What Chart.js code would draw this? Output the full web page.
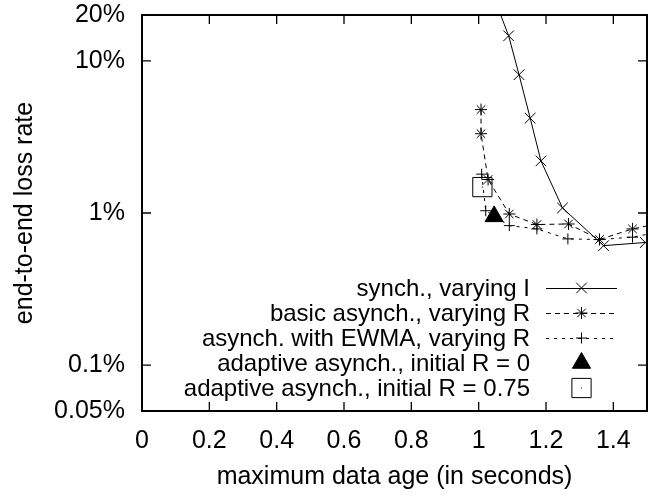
<!DOCTYPE html>
<html>
<head>
<meta charset="utf-8">
<script src="https://cdn.jsdelivr.net/npm/chart.js@4"></script>
<style>
  html, body { margin: 0; padding: 0; background: #fff; }
  canvas { display: block; }
</style>
</head>
<body>
<canvas id="c" width="649" height="501"></canvas>
<script>
// Maximum data age (seconds) and end-to-end loss rate (%) for each scheme
const synchAge  = [1.035, 1.089, 1.120, 1.153, 1.185, 1.249, 1.371, 1.495];
const synchLoss = [30, 14.6, 8.1, 4.2, 2.2, 1.08, 0.61, 0.64];

const basicAge  = [1.007, 1.007, 1.028, 1.091, 1.173, 1.267, 1.359, 1.457, 1.55];
const basicLoss = [4.78, 3.32, 1.66, 0.985, 0.84, 0.847, 0.67, 0.786, 0.866];

const ewmaAge  = [1.009, 1.021, 1.091, 1.173, 1.265, 1.359, 1.457, 1.55];
const ewmaLoss = [1.80, 1.035, 0.826, 0.786, 0.676, 0.669, 0.694, 0.76];

const adaptiveZeroAge  = [1.046];
const adaptiveZeroLoss = [0.95];

const adaptiveHighAge  = [1.011];
const adaptiveHighLoss = [1.48];

const seriesNames = [
  'synch., varying I',
  'basic asynch., varying R',
  'asynch. with EWMA, varying R',
  'adaptive asynch., initial R = 0',
  'adaptive asynch., initial R = 0.75'
];

const xTicks      = [0, 0.2, 0.4, 0.6, 0.8, 1, 1.2, 1.4];
const xTickLabels = ['0', '0.2', '0.4', '0.6', '0.8', '1', '1.2', '1.4'];
const yTicks      = [0.05, 0.1, 1, 10, 20];
const yTickLabels = ['0.05%', '0.1%', '1%', '10%', '20%'];

const FONT = '"Liberation Sans", Arial, Helvetica, sans-serif';
const INK = '#000';

// Plot box inside the 649x501 canvas
const BOX = { left: 142, top: 15, right: 647, bottom: 411 };

const pts = (xs, ys) => xs.map((x, i) => ({ x, y: ys[i] }));

// Box frame with inward ticks on all four sides
const framePlugin = {
  id: 'frame',
  afterDatasetsDraw(chart) {
    const { ctx, chartArea: a, scales: { x, y } } = chart;
    const T = 9;
    ctx.save();
    ctx.strokeStyle = INK;
    ctx.lineWidth = 1.3;
    ctx.beginPath();
    xTicks.forEach(v => {
      const px = x.getPixelForValue(v);
      ctx.moveTo(px, a.bottom); ctx.lineTo(px, a.bottom - T);
      ctx.moveTo(px, a.top);    ctx.lineTo(px, a.top + T);
    });
    yTicks.forEach(v => {
      const py = y.getPixelForValue(v);
      ctx.moveTo(a.left, py);  ctx.lineTo(a.left + T, py);
      ctx.moveTo(a.right, py); ctx.lineTo(a.right - T, py);
    });
    ctx.stroke();
    ctx.lineWidth = 2;
    ctx.strokeRect(a.left, a.top, a.right - a.left, a.bottom - a.top);
    ctx.restore();
  }
};

// Key inside the plot: right-aligned names with line/marker samples
const keyPlugin = {
  id: 'key',
  afterDraw(chart) {
    const { ctx } = chart;
    const textRight = 530, lineL = 546, lineR = 617, markX = 581.5;
    ctx.save();
    chart.data.datasets.forEach((ds, i) => {
      const rowY = 288 + i * 25;
      ctx.fillStyle = INK;
      ctx.font = '24px ' + FONT;
      ctx.textAlign = 'right';
      ctx.textBaseline = 'middle';
      ctx.fillText(seriesNames[i], textRight, rowY + 1);
      if (ds.showLine) {
        ctx.strokeStyle = ds.borderColor;
        ctx.lineWidth = ds.borderWidth;
        ctx.setLineDash(ds.borderDash || []);
        ctx.beginPath();
        ctx.moveTo(lineL, rowY + 0.5);
        ctx.lineTo(lineR, rowY + 0.5);
        ctx.stroke();
        ctx.setLineDash([]);
      }
      ctx.strokeStyle = ds.pointBorderColor;
      ctx.fillStyle = ds.pointBackgroundColor;
      ctx.lineWidth = ds.pointBorderWidth;
      Chart.helpers.drawPoint(ctx, {
        pointStyle: ds.pointStyle,
        radius: ds.pointRadius,
        rotation: 0,
        borderWidth: ds.pointBorderWidth
      }, markX, rowY);
      if (ds.centerDot) {
        ctx.fillStyle = INK;
        ctx.fillRect(markX - 0.5, rowY - 0.5, 1, 1);
      }
    });
    ctx.restore();
  }
};

// Small centre dot inside the open-square markers
const dotPlugin = {
  id: 'dot',
  afterDatasetsDraw(chart) {
    const { ctx } = chart;
    chart.data.datasets.forEach((ds, i) => {
      if (!ds.centerDot) return;
      chart.getDatasetMeta(i).data.forEach(el => {
        ctx.fillStyle = INK;
        ctx.fillRect(el.x - 0.5, el.y - 0.5, 1, 1);
      });
    });
  }
};

// Scales keep no extra room for overhanging labels
const noOverhang = s => {
  s.paddingLeft = 0; s.paddingRight = 0;
  s.paddingTop = 0; s.paddingBottom = 0;
};

new Chart(document.getElementById('c'), {
  type: 'scatter',
  data: {
    datasets: [
      {
        label: seriesNames[0],
        data: pts(synchAge, synchLoss),
        showLine: true,
        borderColor: INK, borderWidth: 1,
        pointStyle: 'crossRot', pointRadius: 7.5,
        pointBorderColor: INK, pointBackgroundColor: INK, pointBorderWidth: 1
      },
      {
        label: seriesNames[1],
        data: pts(basicAge, basicLoss),
        showLine: true,
        borderColor: INK, borderWidth: 1, borderDash: [5, 4],
        pointStyle: 'star', pointRadius: 6,
        pointBorderColor: INK, pointBackgroundColor: INK, pointBorderWidth: 1
      },
      {
        label: seriesNames[2],
        data: pts(ewmaAge, ewmaLoss),
        showLine: true,
        borderColor: INK, borderWidth: 1, borderDash: [3, 5],
        pointStyle: 'cross', pointRadius: 5.5,
        pointBorderColor: INK, pointBackgroundColor: INK, pointBorderWidth: 1
      },
      {
        label: seriesNames[3],
        data: pts(adaptiveZeroAge, adaptiveZeroLoss),
        showLine: false,
        pointStyle: 'triangle', pointRadius: 10.5,
        pointBorderColor: INK, pointBackgroundColor: INK, pointBorderWidth: 1
      },
      {
        label: seriesNames[4],
        data: pts(adaptiveHighAge, adaptiveHighLoss),
        showLine: false,
        centerDot: true,
        pointStyle: 'rect', pointRadius: 13.6,
        pointBorderColor: INK, pointBackgroundColor: 'rgba(0,0,0,0)', pointBorderWidth: 1
      }
    ]
  },
  options: {
    responsive: false,
    animation: false,
    devicePixelRatio: 1,
    layout: {
      autoPadding: false,
      padding: { top: BOX.top, right: 649 - BOX.right, left: 0, bottom: 0 }
    },
    plugins: { legend: { display: false }, tooltip: { enabled: false } },
    elements: { line: { tension: 0 } },
    scales: {
      x: {
        type: 'linear',
        min: 0, max: 1.5,
        afterBuildTicks: s => { s.ticks = xTicks.map(v => ({ value: v })); },
        afterFit: s => { s.height = 501 - BOX.bottom; noOverhang(s); },
        grid: { display: false, drawTicks: false, tickLength: 0 },
        border: { display: false },
        ticks: {
          autoSkip: false, maxRotation: 0, padding: 15,
          color: INK, font: { family: FONT, size: 25 },
          callback: (v, i) => xTickLabels[i]
        },
        title: {
          display: true, text: 'maximum data age (in seconds)',
          color: INK, font: { family: FONT, size: 25 },
          padding: { top: 0, bottom: 9 }
        }
      },
      y: {
        type: 'logarithmic',
        min: 0.05, max: 20,
        afterBuildTicks: s => { s.ticks = yTicks.map(v => ({ value: v })); },
        afterFit: s => { s.width = BOX.left; noOverhang(s); },
        grid: { display: false, drawTicks: false, tickLength: 0 },
        border: { display: false },
        ticks: {
          autoSkip: false, padding: 17,
          color: INK, font: { family: FONT, size: 25 },
          callback: (v, i) => yTickLabels[i]
        },
        title: {
          display: true, text: 'end-to-end loss rate',
          color: INK, font: { family: FONT, size: 25 },
          padding: { top: 10, bottom: 0 }
        }
      }
    }
  },
  plugins: [framePlugin, dotPlugin, keyPlugin]
});
</script>
</body>
</html>
